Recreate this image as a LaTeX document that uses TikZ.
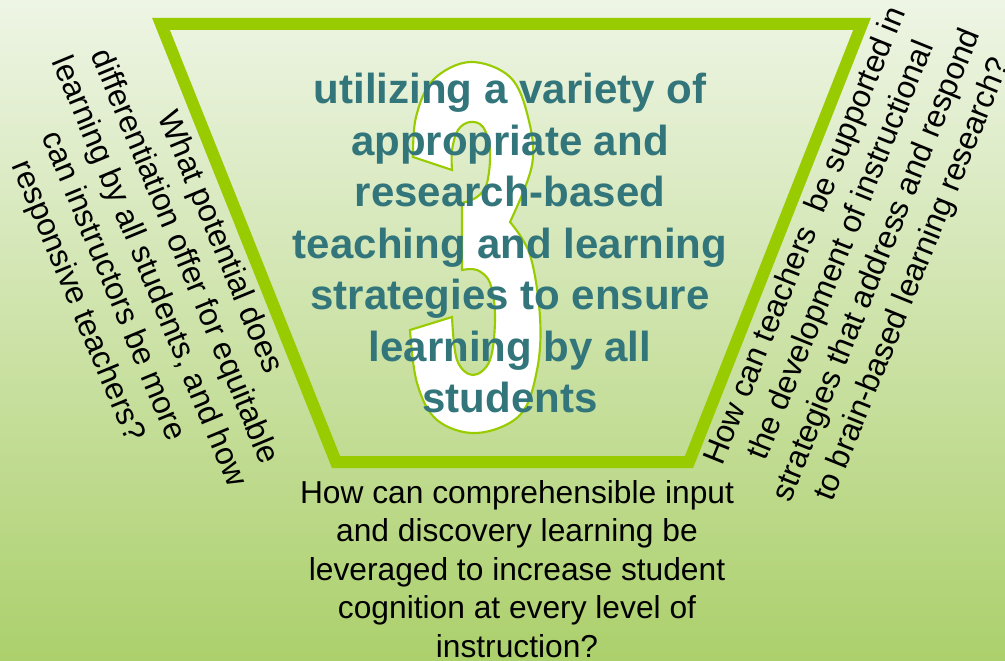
\documentclass[tikz,border=0pt]{standalone}
\usepackage{fontspec}
\setmainfont{Liberation Sans}
\definecolor{lime}{RGB}{153,204,0}
\definecolor{tealtxt}{RGB}{50,117,122}
\definecolor{bgtop}{RGB}{238,245,229}
\definecolor{bgbot}{RGB}{172,208,108}

\begin{document}
\begin{tikzpicture}[x=0.75pt, y=-0.75pt,
  trap/.style={draw=lime, line width=9pt},
  digit/.style={draw=lime, line width=1.6pt, fill=white},
  goal/.style={text=tealtxt, font=\fontsize{31.5}{38.6}\selectfont\bfseries, align=center, inner sep=0pt},
  qtxt/.style={font=\fontsize{23.8}{28.9}\selectfont, align=center, inner sep=0pt}]
\useasboundingbox (0,0) rectangle (1005,660);
% background
\shade[top color=bgtop, bottom color=bgbot] (0,0) rectangle (1005,660);
% funnel
\coordinate (tl) at (161,24);
\coordinate (tr) at (862,24);
\coordinate (br) at (689,462);
\coordinate (bl) at (336,462);
\draw[trap] (tl) -- (tr) -- (br) -- (bl) -- cycle;
% big digit
\draw[digit] plot[smooth, tension=0.6] coordinates {(413,157) (416,117) (433,80) (470,62) (510,77) (528,117) (532,165) (510,222)}
  -- plot[smooth, tension=0.6] coordinates {(510,222) (530,255) (540,317) (537,370) (520,415) (477,433) (437,420) (417,383) (410,330)}
  -- (452,317)
  -- plot[smooth, tension=0.6] coordinates {(452,317) (457,360) (473,375) (490,360) (495,317) (490,283) (477,270) (462,270)}
  -- (462,203)
  -- plot[smooth, tension=0.6] coordinates {(462,203) (477,197) (487,183) (490,150) (483,127) (470,122) (458,130) (452,150) (452,170)}
  -- cycle;
% goal text
\node[goal, anchor=north] (goal) at (510,73)
  {utilizing a variety of\\appropriate and\\research-based\\teaching and learning\\strategies to ensure\\learning by all\\students};
% questions
\node[qtxt, rotate=-67.5] (leftq) at (148,272)
  {What potential does\\differentiation offer for equitable\\learning by all students, and how\\can instructors be more\\responsive teachers?};
\node[qtxt, rotate=68] (rightq) at (860,258)
  {How can teachers\ \ be supported in\\the development of instructional\\strategies that address and respond\\to brain-based learning research?};
\node[qtxt, anchor=north] (bottomq) at (517,480)
  {How can comprehensible input\\and discovery learning be\\leveraged to increase student\\cognition at every level of\\instruction?};
\end{tikzpicture}
\end{document}
